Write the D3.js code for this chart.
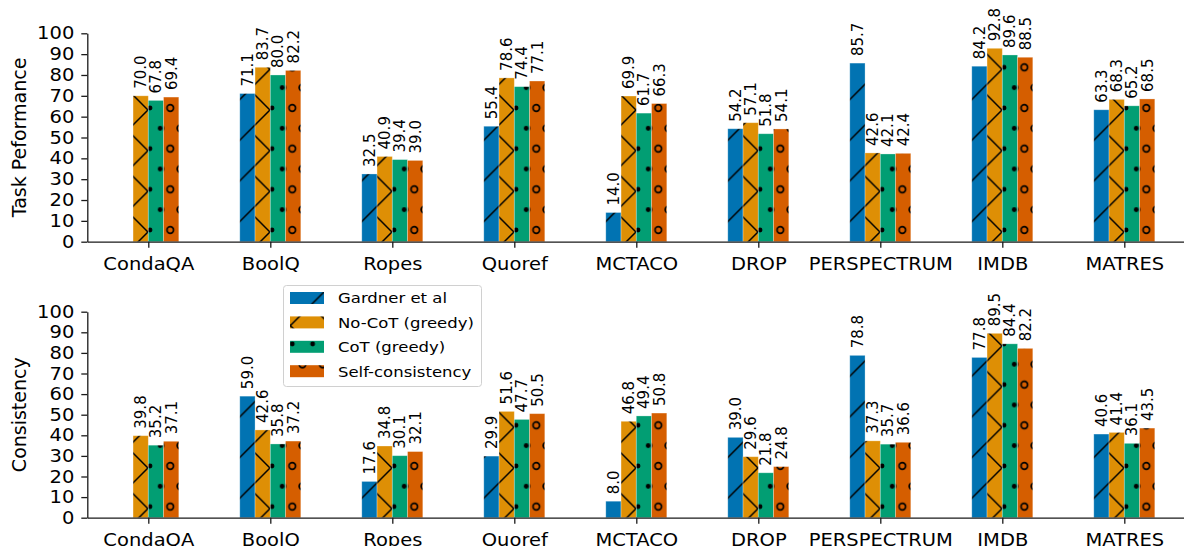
<!DOCTYPE html>
<html>
<head>
<meta charset="utf-8">
<script src="https://d3js.org/d3.v7.min.js"></script>
<style>
  body { margin: 0; background: #fff; }
  text { font-family: "DejaVu Sans", sans-serif; }
</style>
</head>
<body>
<script>
// data
const categories = ["CondaQA", "BoolQ", "Ropes", "Quoref", "MCTACO", "DROP", "PERSPECTRUM", "IMDB", "MATRES"]
const seriesNames = ["Gardner et al", "No-CoT (greedy)", "CoT (greedy)", "Self-consistency"]

const perfGardner = [null, 71.1, 32.5, 55.4, 14.0, 54.2, 85.7, 84.2, 63.3]
const perfNoCot   = [70.0, 83.7, 40.9, 78.6, 69.9, 57.1, 42.6, 92.8, 68.3]
const perfCot     = [67.8, 80.0, 39.4, 74.4, 61.7, 51.8, 42.1, 89.6, 65.2]
const perfSelf    = [69.4, 82.2, 39.0, 77.1, 66.3, 54.1, 42.4, 88.5, 68.5]

const consGardner = [null, 59.0, 17.6, 29.9, 8.0, 39.0, 78.8, 77.8, 40.6]
const consNoCot   = [39.8, 42.6, 34.8, 51.6, 46.8, 29.6, 37.3, 89.5, 41.4]
const consCot     = [35.2, 35.8, 30.1, 47.7, 49.4, 21.8, 35.7, 84.4, 36.1]
const consSelf    = [37.1, 37.2, 32.1, 50.5, 50.8, 24.8, 36.6, 82.2, 43.5]

const yTickValues = [0, 10, 20, 30, 40, 50, 60, 70, 80, 90, 100]

const colors = ["#0173b2", "#de8f05", "#029e73", "#d55e00"]
const hatchKinds = ["slash", "cross", "dots", "rings"]

const W = 1184, H = 546
const SQ = 0.9 // the figure is a little squashed vertically
const svg = d3.select("body").append("svg").attr("width", W).attr("height", H)
const defs = svg.append("defs")

const T = 40.67 // hatch tile
function makePatterns(suffix, ox, oy) {
  colors.forEach((c, k) => {
    const kind = hatchKinds[k]
    const id = `h-${kind}-${suffix}`
    const isShape = kind === "dots" || kind === "rings"
    const pw = isShape ? T / 2 : T
    const p = defs.append("pattern").attr("id", id)
      .attr("patternUnits", "userSpaceOnUse")
      .attr("x", isShape ? ox + 2 : ox).attr("y", isShape ? oy - 2 : oy)
      .attr("width", pw).attr("height", T)
    p.append("rect").attr("width", pw).attr("height", T).attr("fill", c)
    if (kind === "slash" || kind === "cross") {
      p.append("path").attr("d", `M${-T},${2 * T}L${2 * T},${-T}M${-T},${T}L${T},${-T}M0,${2 * T}L${2 * T},0`)
        .attr("stroke", "#000").attr("stroke-width", 1.5).attr("fill", "none")
    }
    if (kind === "cross") {
      p.append("path").attr("d", `M${-T},${-T}L${2 * T},${2 * T}M${-T},0L${T},${2 * T}M0,${-T}L${2 * T},${T}`)
        .attr("stroke", "#000").attr("stroke-width", 1.5).attr("fill", "none")
    }
    if (isShape) {
      const pts = [[0, 0], [pw, 0], [0, T], [pw, T], [pw / 2, T / 2]]
      pts.forEach(([px, py]) => {
        const cEl = p.append("circle").attr("cx", px).attr("cy", py)
        if (kind === "dots") cEl.attr("r", 2.4).attr("fill", "#000")
        else cEl.attr("r", 3.3).attr("fill", "none").attr("stroke", "#000").attr("stroke-width", 1.7)
      })
    }
  })
}
makePatterns("top", 25.96, 28.66)
makePatterns("bot", 25.96, 20.6)

const x = d3.scaleLinear().domain([-0.5, 8.5]).range([87.3, 1185.3])
const inner = d3.scaleBand().domain(d3.range(4)).range([-0.25, 0.25])

function drawPanel(opts) {
  const { values, top, bottom, label, suffix } = opts
  const y = d3.scaleLinear().domain([0, 100]).range([bottom, top])
  const g = svg.append("g")

  const data = []
  values.forEach((arr, k) => arr.forEach((v, i) => { if (v != null) data.push({ k, i, v }) }))

  g.selectAll("rect.bar").data(data).enter().append("rect")
    .attr("class", "bar")
    .attr("x", d => x(d.i + inner(d.k)))
    .attr("width", d => x(d.i + inner(d.k) + inner.bandwidth()) - x(d.i + inner(d.k)))
    .attr("y", d => y(d.v))
    .attr("height", d => y(0) - y(d.v))
    .attr("fill", d => `url(#h-${hatchKinds[d.k]}-${suffix})`)
    .attr("stroke", "rgba(255,255,255,0.35)")
    .attr("stroke-width", 0.8)

  g.selectAll("text.val").data(data).enter().append("text")
    .attr("class", "val")
    .attr("transform", d => `translate(${x(d.i + inner(d.k) + inner.bandwidth() / 2)},${y(d.v) - 7}) rotate(-90)`)
    .attr("dy", "0.36em")
    .attr("font-size", 15)
    .attr("fill", "#000")
    .text(d => d3.format(".1f")(d.v))

  const yAxis = g.append("g").attr("transform", `translate(${x(-0.5)},0)`)
    .call(d3.axisLeft(y).tickValues(yTickValues).tickSize(6).tickPadding(7).tickSizeOuter(0))
  const xAxis = g.append("g").attr("transform", `translate(0,${bottom})`)
    .call(d3.axisBottom(x).tickValues(d3.range(categories.length)).tickFormat(i => categories[i])
      .tickSize(6).tickPadding(7).tickSizeOuter(0))
  ;[yAxis, xAxis].forEach(a => {
    a.selectAll("path, line").attr("stroke", "#1a1a1a").attr("stroke-width", 1.3)
    a.selectAll("text").attr("font-size", 19.5).attr("fill", "#000")
      .attr("font-family", "DejaVu Sans, sans-serif")
  })
  yAxis.selectAll("text").attr("transform", `scale(1,${SQ})`)
  xAxis.selectAll("text").attr("y", 0).attr("dy", 0)
    .attr("transform", `translate(0,${14.5 + 19.5 * 0.76 * SQ}) scale(1,${SQ})`)

  g.append("text")
    .attr("transform", `translate(19,${(top + bottom) / 2}) rotate(-90)`)
    .attr("text-anchor", "middle").attr("dy", "0.36em")
    .attr("font-size", 19).attr("fill", "#000")
    .text(label)
}

drawPanel({ values: [perfGardner, perfNoCot, perfCot, perfSelf], top: 33.3, bottom: 241.7, label: "Task Peformance", suffix: "top" })
drawPanel({ values: [consGardner, consNoCot, consCot, consSelf], top: 311.7, bottom: 517.7, label: "Consistency", suffix: "bot" })

// legend
const lg = svg.append("g")
lg.append("rect").attr("x", 283.5).attr("y", 285.5).attr("width", 198).attr("height", 101)
  .attr("rx", 3).attr("fill", "rgba(255,255,255,0.8)").attr("stroke", "#d0d0d0").attr("stroke-width", 1)
seriesNames.forEach((name, k) => {
  const cy = 298 + k * 24.4
  lg.append("rect").attr("x", 290).attr("y", cy - 6).attr("width", 34).attr("height", 12)
    .attr("fill", `url(#h-${hatchKinds[k]}-bot)`)
  lg.append("text").attr("transform", `translate(338,${cy}) scale(1,${SQ})`).attr("dy", "0.36em")
    .attr("font-size", 16.5).attr("fill", "#000").text(name)
})
</script>
</body>
</html>
